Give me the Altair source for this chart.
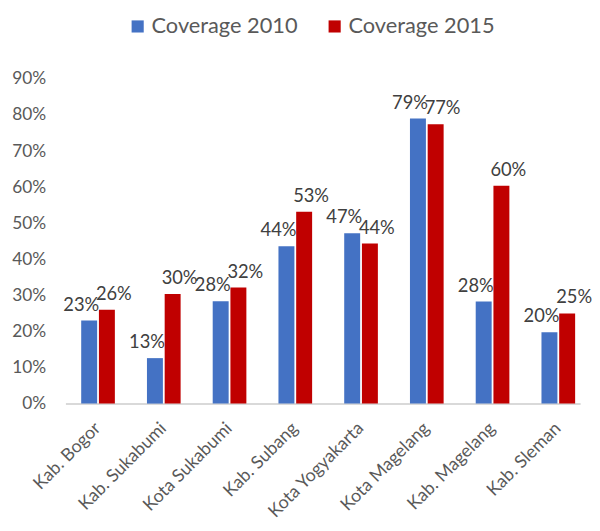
import altair as alt
import pandas as pd

categories = ["Kab. Bogor", "Kab. Sukabumi", "Kota Sukabumi", "Kab. Subang",
              "Kota Yogyakarta", "Kota Magelang", "Kab. Magelang", "Kab. Sleman"]
series = ["Coverage 2010", "Coverage 2015"]
cov2010 = [0.23, 0.126, 0.284, 0.436, 0.472, 0.79, 0.283, 0.198]
cov2015 = [0.26, 0.304, 0.322, 0.532, 0.444, 0.774, 0.604, 0.25]
colors = ["#4472C4", "#C00000"]
y_ticks = [0, 0.1, 0.2, 0.3, 0.4, 0.5, 0.6, 0.7, 0.8, 0.9]

rows = []
for c, a, b in zip(categories, cov2010, cov2015):
    rows.append({"cat": c, "series": series[0], "value": a})
    rows.append({"cat": c, "series": series[1], "value": b})
df = pd.DataFrame(rows)

FONT = "Lato"

x = alt.X("cat:N", sort=categories, title=None,
          scale=alt.Scale(paddingInner=0.488, paddingOuter=0.158, align=0.76),
          axis=alt.Axis(labelAngle=-45, labelAlign="right", labelBaseline="middle",
                        labelFontSize=18, labelColor="#595959", labelFont=FONT,
                        labelPadding=22, ticks=False, domainColor="#d9d9d9",
                        domainWidth=2, labelLimit=300))
xo = alt.XOffset("series:N", sort=series, scale=alt.Scale(paddingInner=0.1))
y = alt.Y("value:Q", title=None,
          scale=alt.Scale(domain=[0, 0.9], nice=False),
          axis=alt.Axis(values=y_ticks, format=".0%", grid=False, domain=False,
                        ticks=False, labelFontSize=17.5, labelColor="#595959",
                        labelFont=FONT, labelPadding=20))
color = alt.Color("series:N", sort=series,
                  scale=alt.Scale(domain=series, range=colors),
                  legend=alt.Legend(title=None, orient="none", direction="horizontal",
                                    legendX=62, legendY=-64, symbolType="square",
                                    symbolSize=150, symbolStrokeWidth=0,
                                    labelFontSize=22, labelFont=FONT,
                                    labelColor="#595959", columnPadding=26,
                                    labelOffset=3))

base = alt.Chart(df)

text_2010 = base.transform_filter(alt.datum.series == series[0]).mark_text(
    baseline="bottom", dy=-6, dx=-8, fontSize=18.5, font=FONT, color="#404040"
).encode(x=x, xOffset=xo, y=y, text=alt.Text("value:Q", format=".0%"))

text_2015 = base.transform_filter(alt.datum.series == series[1]).mark_text(
    baseline="bottom", dy=-6, dx=7, fontSize=18.5, font=FONT, color="#404040"
).encode(x=x, xOffset=xo, y=y, text=alt.Text("value:Q", format=".0%"))

bars = base.mark_bar().encode(x=x, xOffset=xo, y=y, color=color)

chart = alt.layer(text_2010, text_2015, bars).resolve_scale(
    xOffset="shared"
).properties(
    width=520, height=328,
    autosize=alt.AutoSizeParams(type="none"),
    padding={"left": 58, "top": 69, "right": 12, "bottom": 118},
).configure_view(stroke=None)

chart.save("out.html", embed_options={"renderer": "svg", "actions": False})
